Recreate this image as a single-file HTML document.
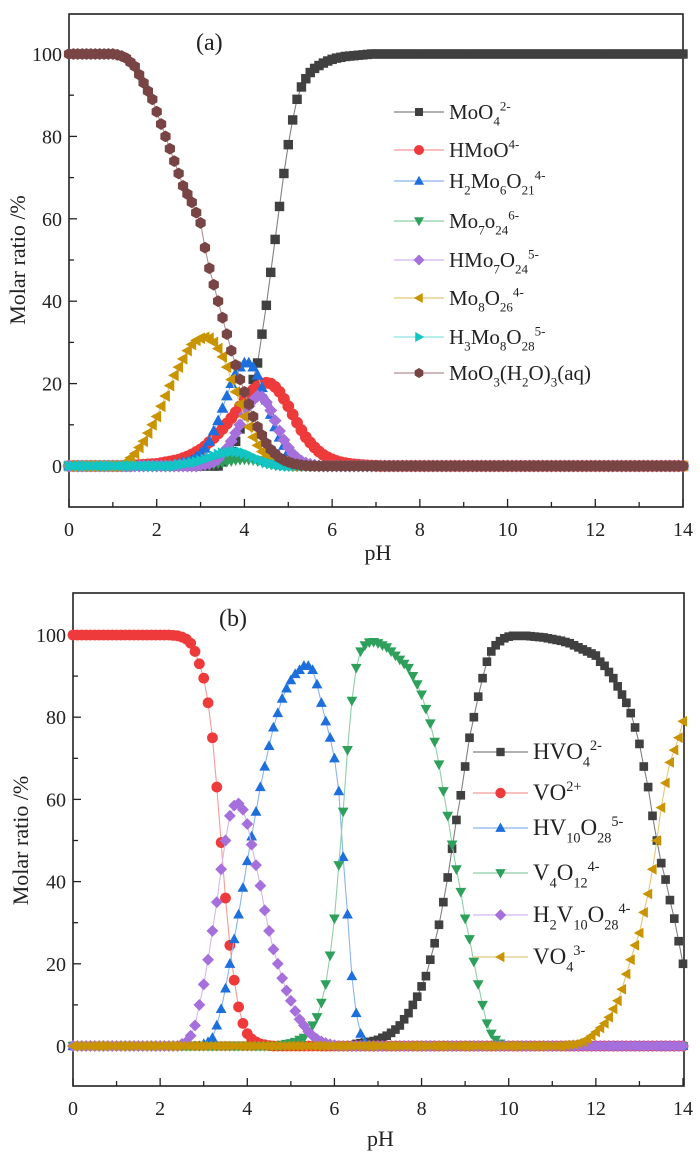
<!DOCTYPE html>
<html><head><meta charset="utf-8"><style>
html,body{margin:0;padding:0;background:#fff;}
svg{display:block;font-family:"Liberation Serif",serif;}
</style></head><body>
<svg id="fig" width="700" height="1162" viewBox="0 0 700 1162" xmlns="http://www.w3.org/2000/svg"></svg>
<script>
// ---------- Panel (a) data: values at 0.1 pH steps from start; pre/post fill ----------
const phStep = 0.1;
const phCount = 141;
const aNames = ["MoO4", "HMoO4", "H2Mo6O21", "Mo7O24", "HMo7O24", "Mo8O26", "H3Mo8O28", "MoO3(H2O)3"];
const aStarts = [3.5, 1.5, 2.3, 3.0, 3.0, 1.2, 2.5, 1.1];
const aPre = [0, 0, 0, 0, 0, 0, 0, 100];
const aPost = [100, 0, 0, 0, 0, 0, 0, 0];
const aMoO4 = [1,2,3.5,6,9,13,17,21,25,32,39,47,55,63,71,78,84,89,92,94,95.5,96.5,97.2,97.8,98.3,98.7,99,99.2,99.4,99.5,99.6,99.7,99.8,99.9];
const aHMoO4 = [.2,.25,.3,.4,.45,.5,.7,.9,1.1,1.3,1.5,1.9,2.3,2.8,3.4,4,4.8,5.8,6.8,7.9,9,10.3,11.6,13,14.5,16,17.3,18.5,19.3,20,20.2,20,19.2,18,16.3,14.5,12.5,10.5,8.7,7,5.7,4.5,3.5,2.7,2.1,1.6,1.2,.9,.7,.5,.4,.3,.2,.15,.1,.05];
const aH2Mo6O21 = [.2,.3,.5,.8,1.1,1.5,2.2,3,4.3,6,8.5,11,14,17,20,22.5,24,25,25,24,22,19,16,12.5,9.5,7,5,3.5,2.3,1.5,1,.6,.3];
const aMo7O24 = [.1,.2,.3,.5,.7,.9,1.1,1.3,1.5,1.6,1.7,1.6,1.5,1.3,1.1,.8,.6,.4,.3,.2,.1];
const aHMo7O24 = [.2,.4,.6,1,1.7,3,4.3,6,8,10,12.5,14.5,16,17,16.8,15.5,13.5,11,8.5,6.3,4.5,3,2,1.2,.7,.4,.2];
const aMo8O26 = [.3,1,2,3,4.5,6,8,10,12,14.5,17,19.5,22,24,26,28,29.5,30.5,31,31.2,31,30,28.5,26.5,24,21,18,15,12,9.5,7,5,3.5,2.3,1.5,.9,.5,.2,.1];
const aH3Mo8O28 = [.3,.4,.6,.8,1,1.3,1.6,2,2.4,2.8,3.1,3.3,3.5,3.5,3.4,3.1,2.7,2.2,1.7,1.3,.9,.6,.4,.2,.1];
const aMoO3 = [99.8,99.5,99,98,97,95,93,91,89,86,83,80,77,74,71,68,66,64,61.5,59,53,48,44,40,36,32,28,24.5,21,18,15,12,9.5,7.5,5.5,4,3,2,1.4,1,.6,.4,.2,.1];
// ---------- Panel (b) data ----------
const bNames = ["HVO4", "VO2", "HV10O28", "V4O12", "H2V10O28", "VO4"];
const bStarts = [6.5, 2.3, 3.0, 4.8, 2.5, 11.3];
const bPre = [0, 100, 0, 0, 0, 0];
const bPost = [20, 0, 0, 0, 0, 79];
const bHVO4 = [.5,.7,.9,1,1.2,1.5,2,2.5,3.2,4,5,6.5,8,10,12,14.5,17,21,25,29.5,35,41,48,55,61,68,75,80,85,89.5,93.5,96,97.5,98.5,99.2,99.6,99.8,99.8,99.8,99.8,99.7,99.6,99.5,99.4,99.2,99,98.8,98.6,98.3,98,97.5,97,96.5,96,95.5,95,93.5,92.5,91,89.5,87.5,85.5,83.5,81,77.5,73.5,68,63,56,50,44.5,40.5,35.5,31,25.5,20];
const bVO2 = [99.9,99.8,99.5,99,98,96,93,89.5,83.5,75,63,49.5,36,24.5,16,9.5,5.5,3,1.7,1,.5,.3,.1];
const bHV10O28 = [.5,1,2,5,9,14,20,26,32,38.5,45,51,57,63,68,73,77.5,81,84.5,87,89,90.5,91.5,92.5,92.5,91.5,88,83.5,79,75,70,62,46,32,17,8,3,1,.3];
const bV4O12 = [.3,.5,.7,1,1.5,2,3.5,5,7,10.5,15,22,31,44,57,72,84,92,96,97.5,98.2,98.3,98,97.5,97,96,95,94,93,92,90,88,85.5,82,78.5,74,68.5,62,56,49,43,37.5,31,26,20.5,15,10,5.5,3,1.5,.6,.2];
const bH2V10O28 = [.5,1,2.5,5,10,15,21,28,35,43,50,56,58.5,59,57.5,54,49,44,39,33,28,23.5,20,16.5,13.5,11,8.5,6.5,5,3.5,2.5,1.7,1.1,.7,.4,.2];
const bVO4 = [.2,.3,.4,.7,1.1,1.7,2.5,3.4,4.4,5.5,7,9,11,13.8,17.5,21,24.5,27.5,32.5,37,43,50,58,64,69,72,75,79];
const xTicks = [0,2,4,6,8,10,12,14];
const yTicks = [0,20,40,60,80,100];

const NS = "http://www.w3.org/2000/svg";
const svg = document.getElementById("fig");
function mk(tag, attrs, parent){
  const e = document.createElementNS(NS, tag);
  for (const k in attrs) e.setAttribute(k, attrs[k]);
  (parent||svg).appendChild(e);
  return e;
}
function expand(start, vals, pre, post){
  const s = Math.round(start/phStep);
  const out = [];
  for (let i=0;i<phCount;i++){
    if (i < s) out.push(pre);
    else if (i - s < vals.length) out.push(vals[i-s]);
    else out.push(post);
  }
  return out;
}
function marker(g, shape, cx, cy, r, color){
  let el;
  if (shape==="square") el = mk("rect",{x:cx-r*0.8,y:cy-r*0.8,width:r*1.6,height:r*1.6,fill:color},g);
  else if (shape==="circle") el = mk("circle",{cx:cx,cy:cy,r:r,fill:color},g);
  else {
    let pts;
    if (shape==="up") pts=[[0,-r*1.05],[r,r*0.75],[-r,r*0.75]];
    else if (shape==="down") pts=[[0,r*1.05],[r,-r*0.75],[-r,-r*0.75]];
    else if (shape==="left") pts=[[-r*1.05,0],[r*0.75,-r],[r*0.75,r]];
    else if (shape==="right") pts=[[r*1.05,0],[-r*0.75,-r],[-r*0.75,r]];
    else if (shape==="diamond") pts=[[0,-r*1.1],[r*1.1,0],[0,r*1.1],[-r*1.1,0]];
    else { pts=[]; for(let k=0;k<6;k++){const a=Math.PI/6+k*Math.PI/3; pts.push([r*Math.cos(a),r*Math.sin(a)]);} }
    el = mk("polygon",{points:pts.map(p=>(cx+p[0]).toFixed(2)+","+(cy+p[1]).toFixed(2)).join(" "),fill:color},g);
  }
  return el;
}
function label(parent, x, y, segs, size){
  const t = mk("text",{x:x,y:y,"font-size":size,fill:"#222"},parent);
  let state="n";
  segs.forEach(s=>{
    const ts = document.createElementNS(NS,"tspan");
    const target = s[1];
    const off = {n:0, sub:size*0.32, sup:-size*0.4};
    const dy = off[target]-off[state];
    if (dy) ts.setAttribute("dy", dy);
    if (target!=="n") ts.setAttribute("font-size", size*0.62);
    ts.textContent = s[0];
    t.appendChild(ts);
    state = target;
  });
  return t;
}

function panel(cfg){
  const g = mk("g",{});
  
  
  const X = v => cfg.x0 + (v/14)*(cfg.x14 - cfg.x0);
  const Y = v => cfg.y0 + (v/100)*(cfg.y100 - cfg.y0);
  const frame = mk("rect",{x:cfg.L,y:cfg.T,width:cfg.R-cfg.L,height:cfg.B-cfg.T,fill:"none",stroke:"#222","stroke-width":1.6},g);
  
  
  for (let v=0; v<=14; v++){
    const len = v%2===0 ? 8 : 5;
    mk("line",{x1:X(v),x2:X(v),y1:cfg.B,y2:cfg.B-len,stroke:"#222","stroke-width":1.3},g);
  }
  xTicks.forEach(v=>{
    const t = mk("text",{x:X(v),y:cfg.B+29,"font-size":20,"text-anchor":"middle",fill:"#222"},g);
    t.textContent = v;
    
    
  });
  for (let v=0; v<=100; v+=10){
    const len = v%20===0 ? 8 : 5;
    mk("line",{x1:cfg.L,x2:cfg.L+len,y1:Y(v),y2:Y(v),stroke:"#222","stroke-width":1.3},g);
  }
  yTicks.forEach(v=>{
    const t = mk("text",{x:cfg.L-7,y:Y(v)+7,"font-size":20,"text-anchor":"end",fill:"#222"},g);
    t.textContent = v;
    
    
  });
  const xt = mk("text",{x:(cfg.L+cfg.R)/2+2,y:cfg.B+cfg.xTitleOff,"font-size":22,"text-anchor":"middle",fill:"#222"},g);
  xt.textContent = "pH";
  
  
  const yc = (cfg.y0+cfg.y100)/2;
  const yt = mk("text",{x:0,y:0,"font-size":22,"text-anchor":"middle",fill:"#222",transform:"translate("+cfg.yTitleX+","+yc+") rotate(-90)"},g);
  yt.textContent = "Molar ratio /%";
  
  
  const pl = mk("text",{x:cfg.tagX,y:cfg.tagY,"font-size":24,fill:"#222"},g);
  pl.textContent = cfg.tag;
  
  
  cfg.series.forEach((s,si)=>{
    const sg = mk("g",{},g);
    
    
    const vals = expand(s.start, s.vals, s.pre, s.post);
    const pts = vals.map((v,i)=>X(i*phStep).toFixed(2)+","+Y(v).toFixed(2)).join(" ");
    mk("polyline",{points:pts,fill:"none",stroke:s.line,"stroke-width":1.1},sg);
    vals.forEach((v,i)=>{
      const m = marker(sg, s.shape, X(i*phStep), Y(v), cfg.mr, s.color);
      
      
    });
  });
  const lg = mk("g",{},g);
  
  
  cfg.series.forEach((s,si)=>{
    const ly = cfg.legY[si];
    const eg = mk("g",{},lg);
    
    
    mk("line",{x1:cfg.legX1,x2:cfg.legX2,y1:ly,y2:ly,stroke:s.line,"stroke-width":1.2},eg);
    marker(eg, s.shape, (cfg.legX1+cfg.legX2)/2, ly, cfg.lmr, s.color);
    label(eg, cfg.legX2+5, ly+7, s.label, cfg.lfs);
  });
}

const cA = {black:"#404040",red:"#ee3a3a",blue:"#1c6fdd",green:"#2ea05c",purple:"#a56fdc",gold:"#c99400",cyan:"#12c4c4",brown:"#784444"};
const lineA = {black:"#808080",red:"#f59a9a",blue:"#8ab4ee",green:"#8ed0a8",purple:"#d4b8f0",gold:"#e2c67a",cyan:"#8ce4e4",brown:"#b09090"};

panel({
  name:"panel-a-molybdenum", tag:"(a)", tagX:196, tagY:50,
  L:69, R:683, T:14, B:507, x0:69, x14:683, y0:466, y100:54,
  yTitleX:25, mr:5.9, lmr:5, lfs:21, xTitleOff:53,
  legX1:394, legX2:444, legY:[112,150,181,221,260,298,337,373],
  series:[
    {key:"moo4", shape:"square", color:cA.black, line:lineA.black, start:aStarts[0], pre:aPre[0], post:aPost[0], vals:aMoO4, label:[["MoO","n"],["4","sub"],["2-","sup"]]},
    {key:"hmoo4", shape:"circle", color:cA.red, line:lineA.red, start:aStarts[1], pre:aPre[1], post:aPost[1], vals:aHMoO4, label:[["HMoO","n"],["4-","sup"]]},
    {key:"h2mo6o21", shape:"up", color:cA.blue, line:lineA.blue, start:aStarts[2], pre:aPre[2], post:aPost[2], vals:aH2Mo6O21, label:[["H","n"],["2","sub"],["Mo","n"],["6","sub"],["O","n"],["21","sub"],["4-","sup"]]},
    {key:"mo7o24", shape:"down", color:cA.green, line:lineA.green, start:aStarts[3], pre:aPre[3], post:aPost[3], vals:aMo7O24, label:[["Mo","n"],["7","sub"],["o","n"],["24","sub"],["6-","sup"]]},
    {key:"hmo7o24", shape:"diamond", color:cA.purple, line:lineA.purple, start:aStarts[4], pre:aPre[4], post:aPost[4], vals:aHMo7O24, label:[["HMo","n"],["7","sub"],["O","n"],["24","sub"],["5-","sup"]]},
    {key:"mo8o26", shape:"left", color:cA.gold, line:lineA.gold, start:aStarts[5], pre:aPre[5], post:aPost[5], vals:aMo8O26, label:[["Mo","n"],["8","sub"],["O","n"],["26","sub"],["4-","sup"]]},
    {key:"h3mo8o28", shape:"right", color:cA.cyan, line:lineA.cyan, start:aStarts[6], pre:aPre[6], post:aPost[6], vals:aH3Mo8O28, label:[["H","n"],["3","sub"],["Mo","n"],["8","sub"],["O","n"],["28","sub"],["5-","sup"]]},
    {key:"moo3-aq", shape:"hex", color:cA.brown, line:lineA.brown, start:aStarts[7], pre:aPre[7], post:aPost[7], vals:aMoO3, label:[["MoO","n"],["3","sub"],["(H","n"],["2","sub"],["O)","n"],["3","sub"],["(aq)","n"]]}
  ]
});

panel({
  name:"panel-b-vanadium", tag:"(b)", tagX:219, tagY:626,
  L:73, R:684, T:593, B:1086, x0:73, x14:683, y0:1046, y100:635,
  yTitleX:28, mr:5.4, lmr:5.2, lfs:23, xTitleOff:60,
  legX1:473, legX2:528, legY:[752,793,828,873,915,957],
  series:[
    {key:"hvo4", shape:"square", color:cA.black, line:lineA.black, start:bStarts[0], pre:bPre[0], post:bPost[0], vals:bHVO4, label:[["HVO","n"],["4","sub"],["2-","sup"]]},
    {key:"vo2", shape:"circle", color:cA.red, line:lineA.red, start:bStarts[1], pre:bPre[1], post:bPost[1], vals:bVO2, label:[["VO","n"],["2+","sup"]]},
    {key:"hv10o28", shape:"up", color:cA.blue, line:lineA.blue, start:bStarts[2], pre:bPre[2], post:bPost[2], vals:bHV10O28, label:[["HV","n"],["10","sub"],["O","n"],["28","sub"],["5-","sup"]]},
    {key:"v4o12", shape:"down", color:cA.green, line:lineA.green, start:bStarts[3], pre:bPre[3], post:bPost[3], vals:bV4O12, label:[["V","n"],["4","sub"],["O","n"],["12","sub"],["4-","sup"]]},
    {key:"h2v10o28", shape:"diamond", color:cA.purple, line:lineA.purple, start:bStarts[4], pre:bPre[4], post:bPost[4], vals:bH2V10O28, label:[["H","n"],["2","sub"],["V","n"],["10","sub"],["O","n"],["28","sub"],["4-","sup"]]},
    {key:"vo4", shape:"left", color:cA.gold, line:lineA.gold, start:bStarts[5], pre:bPre[5], post:bPost[5], vals:bVO4, label:[["VO","n"],["4","sub"],["3-","sup"]]}
  ]
});
</script>
</body></html>
